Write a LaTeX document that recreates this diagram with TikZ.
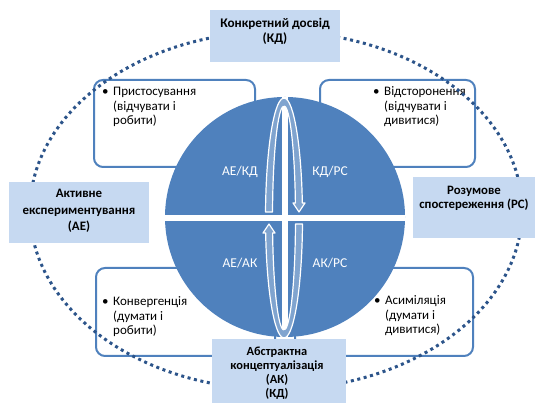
\documentclass[tikz,border=0pt]{standalone}
\usepackage{fontspec}
\setmainfont{Carlito}
\begin{document}
\begin{tikzpicture}[x=1pt,y=1pt]
\definecolor{circblue}{RGB}{79,129,189}
\definecolor{capfill}{RGB}{198,217,241}
\definecolor{ringdots}{RGB}{44,84,138}
\tikzset{
  pane/.style={draw=circblue, line width=2pt, fill=white, rounded corners=9pt,
    inner sep=0pt, outer sep=0pt},
  captionbox/.style={fill=capfill, inner sep=0pt, outer sep=0pt},
  captext/.style 2 args={align=center, inner sep=0pt, font=\bfseries\fontsize{#1}{#2}\selectfont},
  listtext/.style={inner sep=0pt, anchor=north west, font=\fontsize{13}{14.5}\selectfont},
  quadlabel/.style={text=white, inner sep=0pt, font=\fontsize{13.5}{15}\selectfont},
  loop/.style={fill=circblue!72!white, draw=white, line width=1.2pt, line join=round},
  ring/.style={draw=ringdots, line width=3pt, dash pattern=on 3pt off 3.6pt},
}
\newcommand{\bulletlist}[3]{\begin{tabular}{@{}l@{\hspace{4.5pt}}l@{}}\textbullet&#1\\&#2\\&#3\end{tabular}}
\begin{scope}[shift={(0,403)}, yscale=-1]
\useasboundingbox (0,0) rectangle (540,403);

% four style panes behind the disc
\node[pane, minimum width=161pt, minimum height=87pt] (tl) at (174.5,123.5) {};
\node[pane, minimum width=155pt, minimum height=87pt] (tr) at (397.5,123.5) {};
\node[pane, minimum width=179pt, minimum height=88pt] (bl) at (185.5,312) {};
\node[pane, minimum width=178pt, minimum height=88pt] (br) at (384,312) {};

\node[listtext] (tlt) at (102,85.5) {\bulletlist{Пристосування}{(відчувати і}{робити)}};
\node[listtext] (trt) at (373,85.5) {\bulletlist{Відсторонення}{(відчувати і}{дивитися)}};
\node[listtext] (blt) at (102,295.5) {\bulletlist{Конвергенція}{(думати і}{робити)}};
\node[listtext] (brt) at (374,294.5) {\bulletlist{Асиміляція}{(думати і}{дивитися)}};

% the disc split into quadrants
\node[circle, fill=circblue, minimum size=240pt, inner sep=0pt] (disc) at (285,217) {};
\begin{scope}
  \clip (285,217) circle[radius=120];
  \fill[white] (160,215) rectangle (410,221);
  \fill[white] (281.5,90) rectangle (287.5,345);
\end{scope}

% two hollow arrows forming a narrow loop
\draw[loop] (265.52,212) arc[start angle=182.87, end angle=352.82, x radius=18.5, y radius=120]
  -- (305,203) -- (299,212) -- (293,203) -- (295.40,203)
  arc[start angle=352.30, end angle=183.07, x radius=11.5, y radius=112] -- cycle;
\begin{scope}[rotate around={180:(284,218)}]
\draw[loop] (265.52,212) arc[start angle=182.87, end angle=352.82, x radius=18.5, y radius=120]
  -- (305,203) -- (299,212) -- (293,203) -- (295.40,203)
  arc[start angle=352.30, end angle=183.07, x radius=11.5, y radius=112] -- cycle;
\end{scope}

\node[quadlabel] (q1) at (240,172) {АЕ/КД};
\node[quadlabel] (q2) at (330,172) {КД/РС};
\node[quadlabel] (q3) at (240,263) {АЕ/АК};
\node[quadlabel] (q4) at (330,263) {АК/РС};

% dotted cycle around everything
\draw[ring] (276,210.5) ellipse[x radius=246, y radius=179];

% the four stage captions
\node[captionbox, minimum width=130pt, minimum height=52pt] (kd) at (275,36) {};
\node[captionbox, minimum width=140pt, minimum height=61pt] (ae) at (79,212.5) {};
\node[captionbox, minimum width=122pt, minimum height=61pt] (rs) at (474,207.5) {};
\node[captionbox, minimum width=134pt, minimum height=80pt] (ak) at (279,379) {};

\node[captext={13.2}{15}] (kdt) at (275,31) {Конкретний досвід\\(КД)};
\node[captext={12.9}{16.3}] (aet) at (79,211) {Активне\\експериментування\\(АЕ)};
\node[captext={12.8}{14}] (rst) at (474,198) {Розумове\\спостереження (РС)};
\node[captext={12.4}{14}] (akt) at (277,373) {Абстрактна\\концептуалізація\\(АК)\\(КД)};
\end{scope}
\end{tikzpicture}
\end{document}
